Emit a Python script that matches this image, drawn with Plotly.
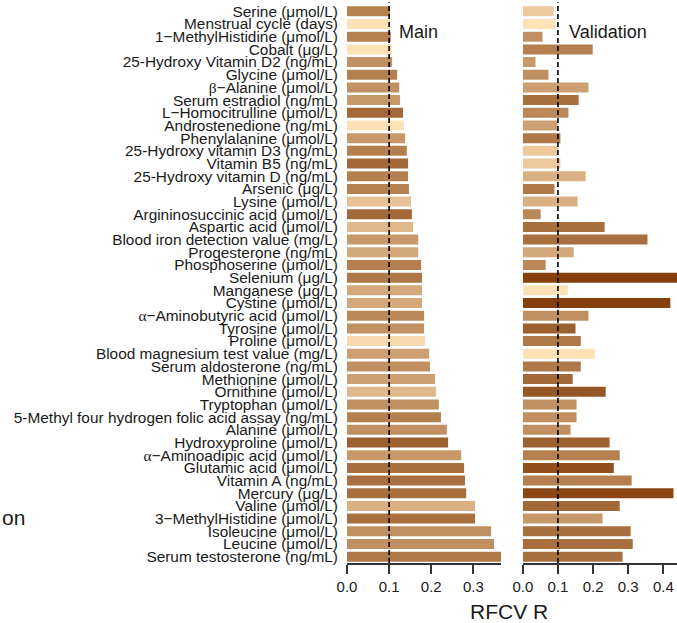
import plotly.graph_objects as go

categories = [
    "Serine (μmol/L)", "Menstrual cycle (days)", "1−MethylHistidine (μmol/L)", "Cobalt (μg/L)",
    "25-Hydroxy Vitamin D2 (ng/mL)", "Glycine (μmol/L)", "β−Alanine (μmol/L)", "Serum estradiol (ng/mL)",
    "L−Homocitrulline (μmol/L)", "Androstenedione (ng/mL)", "Phenylalanine (μmol/L)",
    "25-Hydroxy vitamin D3 (ng/mL)", "Vitamin B5 (ng/mL)", "25-Hydroxy vitamin D (ng/mL)",
    "Arsenic (μg/L)", "Lysine (μmol/L)", "Argininosuccinic acid (μmol/L)", "Aspartic acid (μmol/L)",
    "Blood iron detection value (mg/L)", "Progesterone (ng/mL)", "Phosphoserine (μmol/L)",
    "Selenium (μg/L)", "Manganese (μg/L)", "Cystine (μmol/L)", "α−Aminobutyric acid (μmol/L)",
    "Tyrosine (μmol/L)", "Proline (μmol/L)", "Blood magnesium test value (mg/L)",
    "Serum aldosterone (ng/mL)", "Methionine (μmol/L)", "Ornithine (μmol/L)", "Tryptophan (μmol/L)",
    "5-Methyl four hydrogen folic acid assay (ng/mL)", "Alanine (μmol/L)", "Hydroxyproline (μmol/L)",
    "α−Aminoadipic acid (μmol/L)", "Glutamic acid (μmol/L)", "Vitamin A (ng/mL)", "Mercury (μg/L)",
    "Valine (μmol/L)", "3−MethylHistidine (μmol/L)", "Isoleucine (μmol/L)", "Leucine (μmol/L)",
    "Serum testosterone (ng/mL)",
]

main_r = [
    0.102, 0.102, 0.104, 0.107, 0.107, 0.119, 0.124, 0.126, 0.133, 0.135, 0.138,
    0.142, 0.145, 0.145, 0.147, 0.152, 0.154, 0.157, 0.169, 0.169, 0.176, 0.178,
    0.178, 0.178, 0.183, 0.183, 0.185, 0.195, 0.197, 0.209, 0.211, 0.218, 0.223,
    0.237, 0.240, 0.271, 0.278, 0.280, 0.283, 0.304, 0.304, 0.342, 0.349, 0.366,
]

val_r = [
    0.088, 0.093, 0.056, 0.199, 0.036, 0.073, 0.187, 0.159, 0.130, 0.099, 0.107,
    0.101, 0.107, 0.179, 0.090, 0.156, 0.051, 0.233, 0.355, 0.145, 0.065, 0.439,
    0.128, 0.420, 0.187, 0.150, 0.165, 0.205, 0.165, 0.142, 0.236, 0.153, 0.153,
    0.136, 0.247, 0.276, 0.259, 0.310, 0.429, 0.276, 0.227, 0.307, 0.313, 0.284,
]

# colour intensity (0 = lightest, 10 = darkest)
main_shade = [
    6, 0, 6, 0, 5, 6, 5, 4.5, 7.5, 0, 4.5, 6, 7.5, 6, 6, 2, 7.5, 2.5, 4.5, 3.5, 6, 6.5,
    3.5, 3.5, 5.5, 5, 0.5, 4, 5, 4, 2.5, 5, 6, 5, 8, 4.5, 7, 7, 7, 3, 7, 5, 5, 6.5,
]

val_shade = [
    1.5, 0, 5, 6, 4.5, 5, 4, 7, 5.5, 4, 6.5, 1.5, 1.5, 3, 6.5, 3, 5.5, 7, 7, 3.5, 5.5, 10,
    0, 10, 5, 8, 6.5, 0, 6.5, 7.5, 8.5, 5, 5, 5, 8, 6, 9, 6, 9.5, 7.5, 4.5, 7, 7, 7,
]

panel_titles = ["Main", "Validation"]
x_title = "RFCV R"
side_text = "on"

colorscale = [[0, "#FDE1B7"], [1, "#843F0C"]]
FONT = "Liberation Sans, Arial, sans-serif"
TXT = "#1a1a1a"


def fmt_label(s):
    for g in ("α", "β"):
        s = s.replace(g, '<span style="font-family:Liberation Serif, serif">%s</span>' % g)
    return s


labels = [fmt_label(c) for c in categories]
idx = list(range(len(categories)))

fig = go.Figure()
for vals, shade, xa, ya in ((main_r, main_shade, "x", "y"), (val_r, val_shade, "x2", "y2")):
    fig.add_trace(go.Bar(
        y=idx, x=vals, orientation="h", width=0.79,
        marker=dict(color=shade, colorscale=colorscale, cmin=0, cmax=10, line_width=0),
        xaxis=xa, yaxis=ya, showlegend=False, customdata=categories,
        hovertemplate="%{customdata}: %{x}<extra></extra>",
    ))

W, H = 677, 623
ml, mr, mt, mb = 347, 0, 5, 60
pw = W - ml - mr
panel_px = 154.2
gap_px = pw - 2 * panel_px

xcommon = dict(
    showline=True, linecolor="#333", linewidth=1.5, ticks="outside", ticklen=9,
    tickwidth=1.5, tickcolor="#333", tickformat=".1f", showgrid=False, zeroline=False,
    tickfont=dict(size=15, color=TXT, family=FONT), fixedrange=True,
)
ycommon = dict(
    range=[len(idx) - 0.5, -0.5], showgrid=False, zeroline=False, showline=False,
    ticks="", fixedrange=True, tickmode="array", tickvals=idx, ticktext=labels,
)

fig.update_layout(
    width=W, height=H, margin=dict(l=ml, r=mr, t=mt, b=mb),
    paper_bgcolor="white", plot_bgcolor="white",
    font=dict(family=FONT, color=TXT, size=15),
    xaxis=dict(domain=[0, panel_px / pw], range=[0, max(main_r)],
               tickvals=[0, 0.1, 0.2, 0.3], anchor="y", **xcommon),
    xaxis2=dict(domain=[(panel_px + gap_px) / pw, 1], range=[0, max(val_r)],
                tickvals=[0, 0.1, 0.2, 0.3, 0.4], anchor="y2", **xcommon),
    yaxis=dict(domain=[0, 1], anchor="x", showticklabels=True, ticklabelstandoff=8,
               tickfont=dict(size=15.4, color=TXT, family=FONT), **ycommon),
    yaxis2=dict(domain=[0, 1], anchor="x2", matches="y", showticklabels=False, **ycommon),
)

ph = H - mt - mb
for xa, ya in (("x", "y"), ("x2", "y2")):
    fig.add_shape(type="line", xref=xa, yref=ya + " domain", x0=0.1, x1=0.1, y0=0, y1=1.005,
                  line=dict(color="black", width=1.6, dash="5px,3px"), layer="above")

fig.add_annotation(text=panel_titles[0], xref="x domain", yref="paper",
                   x=(397 - ml) / panel_px, y=1 - (31.7 - mt) / ph,
                   xanchor="left", yanchor="middle", showarrow=False,
                   font=dict(size=18, color=TXT, family=FONT))
fig.add_annotation(text=panel_titles[1], xref="x2 domain", yref="paper",
                   x=(566.7 - ml - panel_px - gap_px) / panel_px, y=1 - (31.7 - mt) / ph,
                   xanchor="left", yanchor="middle", showarrow=False,
                   font=dict(size=18, color=TXT, family=FONT))
fig.add_annotation(text=x_title, xref="paper", yref="paper",
                   x=(509 - ml) / pw, y=-(611.5 - (H - mb)) / ph,
                   xanchor="center", yanchor="middle", showarrow=False,
                   font=dict(size=21, color=TXT, family=FONT))
fig.add_annotation(text=side_text, xref="paper", yref="paper",
                   x=(0 - ml) / pw, y=-(517 - (H - mb)) / ph,
                   xanchor="left", yanchor="middle", showarrow=False,
                   font=dict(size=21, color=TXT, family=FONT))

fig.write_html("out.html")
